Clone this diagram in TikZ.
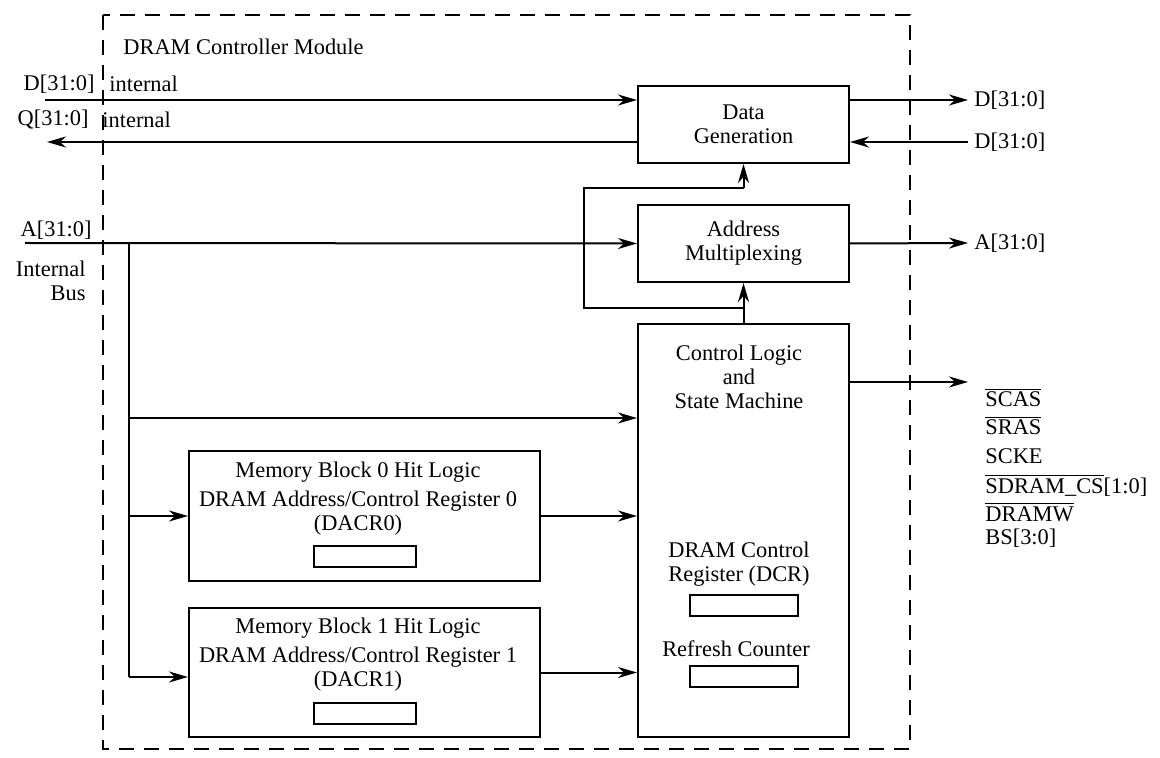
\documentclass[tikz,border=0pt]{standalone}
\usepackage{fontspec}
\setmainfont{Liberation Serif}
\usetikzlibrary{arrows.meta,calc}

\begin{document}
\begin{tikzpicture}[
  x=0.5pt,y=-0.5pt,
  arr/.style={-{Stealth[length=9.5pt,width=5.5pt,inset=3pt]},line width=1pt,draw=black},
  wire/.style={line width=1pt,draw=black},
  border/.style={line width=1pt,dash pattern=on 7.5pt off 5pt},
  lbl/.style={font=\fontsize{11.2}{12}\selectfont,align=center,inner sep=1pt},
  blk/.style={draw=black,line width=1pt,inner sep=0pt,font=\fontsize{11.2}{12}\selectfont,align=center},
  reg/.style={draw=black,line width=1pt,inner sep=0pt,minimum height=10.5pt},
]
\useasboundingbox (0,0) rectangle (1160,758);

% --- MODULE BORDER ---
\draw[border] (103,15) rectangle (910,749);
\node[lbl,anchor=west] (title) at (121,47) {DRAM Controller Module};

% --- RIGHT COLUMN ---
\node[blk,minimum width=105.5pt,minimum height=38.5pt] (datagen) at (743.5,124.5) {Data\\Generation};
\node[blk,minimum width=105.5pt,minimum height=38.5pt] (addrmux) at (743.5,243.5) {Address\\Multiplexing};
\node[blk,minimum width=105.5pt,minimum height=206.5pt] (ctrl) at (743.5,530.5) {};
\node[lbl] (ctrltxt) at (739,377) {Control Logic\\and\\State Machine};
\node[lbl] (dcrtxt) at (739,564) {DRAM Control\\Register (DCR)};
\node[reg,minimum width=54pt] (dcr) at (744,605.5) {};
\node[lbl] (refreshtxt) at (736,649) {Refresh Counter};
\node[reg,minimum width=54pt] (refresh) at (744,676.5) {};

% --- HIT LOGIC BLOCKS ---
\node[blk,minimum width=175.5pt,minimum height=65pt] (mem0) at (364.5,516) {};
\node[lbl] (mem0txt) at (358,498.5) {Memory Block 0 Hit Logic\\[2.5pt]DRAM Address/Control Register 0\\(DACR0)};
\node[reg,minimum width=51pt] (dacr0) at (365,556.5) {};
\node[blk,minimum width=175.5pt,minimum height=64.5pt] (mem1) at (364.5,672.5) {};
\node[lbl] (mem1txt) at (358,654.5) {Memory Block 1 Hit Logic\\[2.5pt]DRAM Address/Control Register 1\\(DACR1)};
\node[reg,minimum width=51pt] (dacr1) at (365,713.5) {};

% --- LEFT SIGNALS ---
\node[lbl,anchor=east] (dlbl) at (97,84) {D[31:0]};
\node[lbl,anchor=west] (dint) at (107,84) {internal};
\node[lbl,anchor=east] (qlbl) at (91,120) {Q[31:0]};
\node[lbl,anchor=west] (qint) at (100,120) {internal};
\node[lbl,anchor=east] (albl) at (94,230) {A[31:0]};
\node[lbl,anchor=east,align=right] (buslbl) at (88,281) {Internal\\Bus};

\coordinate (din) at (45,100);
\coordinate (qout) at (47,142);
\coordinate (ain) at (25,243);
\draw[arr] (din) -- (din -| datagen.west);
\draw[arr] (qout -| datagen.west) -- (qout);
\draw[arr] (ain) -- (addrmux.west);

% --- INTERNAL BUS ---
\coordinate (bustop) at (129,243);
\coordinate (busbot) at (129,677);
\coordinate (busctrl) at (129,418);
\draw[wire] (bustop) -- (busbot);
\draw[arr] (busctrl) -- (busctrl -| ctrl.west);
\draw[arr] (bustop |- mem0.west) -- (mem0.west);
\draw[arr] (busbot) -- (busbot -| mem1.west);
\draw[arr] (mem0.east) -- (mem0.east -| ctrl.west);
\draw[arr] (mem1.east) -- (mem1.east -| ctrl.west);

% --- FEEDBACK ---
\coordinate (lp1) at (584,308);
\coordinate (lp2) at (584,188);
\draw[arr] (ctrl.north) -- (addrmux.south);
\draw[wire] (lp1 -| ctrl.north) -- (lp1) -- (lp2) -- (lp2 -| datagen.south);
\draw[arr] (lp2 -| datagen.south) -- (datagen.south);

% --- RIGHT SIGNALS ---
\coordinate (dout) at (968,100);
\coordinate (dinr) at (968,142);
\coordinate (aout) at (968,243);
\coordinate (cout) at (968,382);
\draw[arr] (dout -| datagen.east) -- (dout);
\draw[arr] (dinr) -- (dinr -| datagen.east);
\draw[arr] (addrmux.east) -- (aout);
\draw[arr] (cout -| ctrl.east) -- (cout);
\node[lbl,anchor=west] (doutlbl) at ($(dout)+(4,0)$) {D[31:0]};
\node[lbl,anchor=west] (dinlbl) at ($(dinr)+(4,0)$) {D[31:0]};
\node[lbl,anchor=west] (aoutlbl) at ($(aout)+(4,0)$) {A[31:0]};

\foreach \i/\y/\t in {1/407/{$\overline{\mbox{SCAS}}$},2/435/{$\overline{\mbox{SRAS}}$},3/463/{SCKE},
  4/493/{$\overline{\mbox{SDRAM\_CS}}$[1:0]},5/521/{$\overline{\mbox{DRAMW}}$},6/544/{BS[3:0]}} {
  \node[lbl,anchor=base west] (sig\i) at (983,\y) {\t};
}

\end{tikzpicture}
\end{document}
